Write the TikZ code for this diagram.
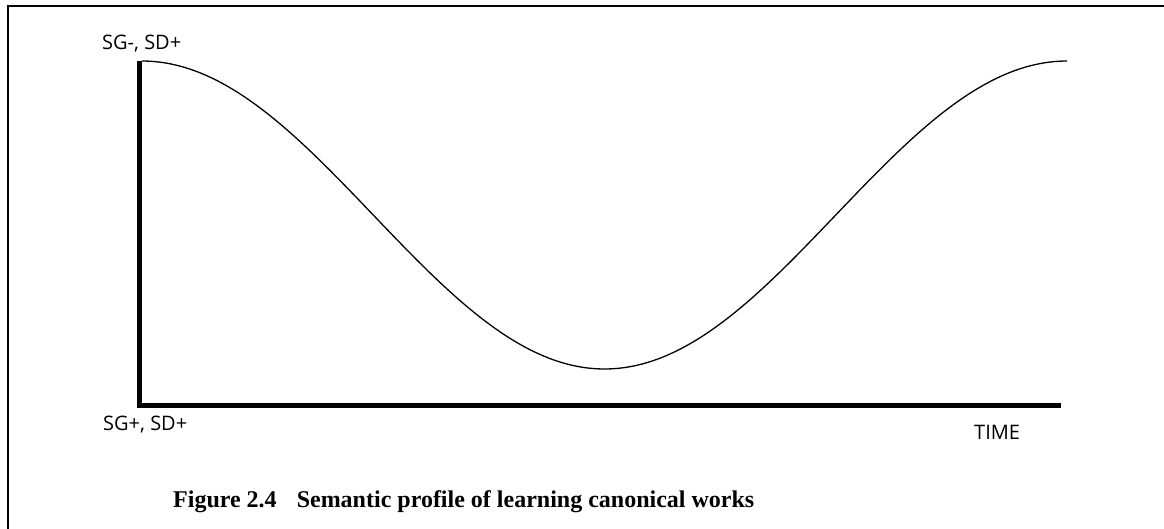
\documentclass[tikz,border=0pt]{standalone}
\usepackage{fontspec}
\newfontfamily\lblfont{Open Sans}
\newfontfamily\capfont{Liberation Serif}
\begin{document}
\begin{tikzpicture}[x=1pt,y=-1pt,
  axislabel/.style={font=\lblfont\fontsize{20}{22}\selectfont, inner sep=0pt, anchor=base west},
  captext/.style={font=\capfont\bfseries\fontsize{24}{27}\selectfont, inner sep=0pt, anchor=base west},
  axisline/.style={line width=5pt, line join=miter},
  frameline/.style={line width=2.8pt},
  profile/.style={line width=1.3pt}]
\useasboundingbox (0,0) rectangle (1164,528);
\fill[white] (0,0) rectangle (1164,528);
% frame (cropped at right and bottom)
\draw[frameline] (8,530) -- (8,6) -- (1166,6);
% axes
\coordinate (ytop) at (139.5,61);
\coordinate (O) at (139.5,405.5);
\coordinate (xend) at (1061,405.5);
\draw[axisline] (ytop) -- (O) -- (xend);
% curve
\draw[profile] plot[domain=142:1067, samples=200] (\x, {215-154*cos((\x-142)*0.3891892)});
% labels
\node[axislabel] (top) at (102,49) {SG-, SD+};
\node[axislabel] (bot) at (103,430) {SG+, SD+};
\node[axislabel] (time) at (974,439) {TIME};
\node[captext] (cap) at (173,507) {Figure 2.4\hspace{20pt}Semantic profile of learning canonical works};
\end{tikzpicture}
\end{document}
